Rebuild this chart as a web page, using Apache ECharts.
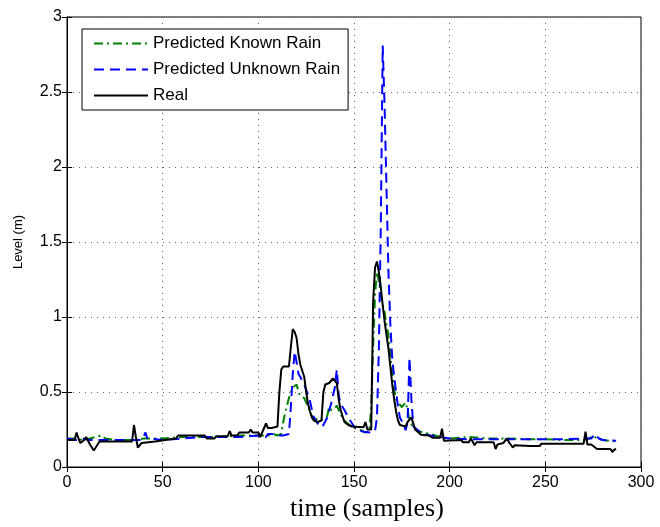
<!DOCTYPE html>
<html lang="en">
<head>
    <meta charset="UTF-8">
    <title>level</title>
    <script src="https://cdn.jsdelivr.net/npm/echarts@6/dist/echarts.min.js"></script>
    <style>
        html, body { margin: 0; padding: 0; background: #fff; }
        #box { width: 660px; height: 527px; }
    </style>
</head>
<body>
    <div id="box"></div>
    <script>
        // sample index / level (m) pairs
        var realX = [0,2,4,5,6,7,9,10,11,12,14,15,16,17,34,35,36,37,39,40,46,47,57,58,72,73,77,78,84,85,86,89,90,95,96,97,100,101,102,104,105,107,108,110,111,112,113,116,117,118,119,120,121,122,123,124,125,126,127,128,129,131,133,134,135,137,139,140,141,142,143,144,145,147,149,150,155,156,157,159,160,161,162,163,164,165,166,167,168,169,170,171,172,173,174,175,177,178,180,181,182,183,185,189,191,195,196,197,198,206,207,210,211,212,213,214,223,224,225,228,229,230,231,232,233,234,242,247,248,270,271,272,274,275,277,284,285,286,287];
        var realY = [0.18,0.18,0.18,0.23,0.19,0.16,0.18,0.2,0.19,0.15,0.11,0.13,0.15,0.17,0.17,0.28,0.2,0.13,0.16,0.17,0.17,0.18,0.19,0.21,0.21,0.19,0.19,0.205,0.205,0.24,0.21,0.21,0.23,0.23,0.25,0.23,0.23,0.2,0.2,0.29,0.26,0.26,0.27,0.27,0.5,0.65,0.67,0.67,0.8,0.92,0.9,0.86,0.75,0.68,0.64,0.6,0.5,0.42,0.37,0.33,0.31,0.3,0.31,0.5,0.55,0.56,0.59,0.59,0.56,0.45,0.38,0.34,0.3,0.28,0.27,0.265,0.265,0.3,0.25,0.25,1.1,1.33,1.37,1.3,1.2,1.08,0.97,0.88,0.79,0.67,0.55,0.45,0.37,0.31,0.28,0.27,0.27,0.3,0.33,0.29,0.25,0.24,0.215,0.21,0.195,0.195,0.255,0.175,0.18,0.18,0.165,0.165,0.19,0.17,0.145,0.165,0.165,0.12,0.15,0.16,0.16,0.19,0.165,0.165,0.13,0.145,0.14,0.14,0.155,0.155,0.235,0.15,0.15,0.14,0.12,0.12,0.1,0.115,0.12];

        var knownX = [0,5,8,12,15,18,20,25,35,40,50,60,70,80,90,100,105,108,110,112,113,114,116,118,120,121,122,124,126,128,130,132,134,136,137,138,140,141,143,145,149,153,156,158,159,160,161,162,163,164,165,166,167,168,169,170,171,172,173,175,177,178,179,181,183,186,190,195,200,210,220,230,240,250,260,270,273,275,277,280,287];
        var knownY = [0.19,0.19,0.18,0.19,0.2,0.21,0.19,0.18,0.18,0.19,0.19,0.2,0.2,0.2,0.21,0.21,0.21,0.22,0.21,0.22,0.3,0.36,0.46,0.53,0.55,0.5,0.47,0.46,0.4,0.34,0.32,0.31,0.32,0.34,0.4,0.38,0.39,0.41,0.35,0.31,0.265,0.25,0.23,0.24,0.4,0.8,1.15,1.3,1.24,1.15,1.08,1.03,0.95,0.88,0.75,0.62,0.52,0.45,0.43,0.4,0.43,0.38,0.31,0.26,0.24,0.23,0.22,0.2,0.19,0.2,0.19,0.19,0.185,0.185,0.18,0.18,0.19,0.21,0.19,0.18,0.17];

        var unknownX = [0,5,8,10,12,20,30,39,40,41,42,50,60,70,80,90,100,104,105,108,110,113,116,117,118,119,120,121,122,123,124,126,127,128,129,131,133,134,136,138,140,141,142,143,145,147,149,151,155,158,161,162,163,164,165,166,167,168,169,170,171,172,173,174,176,177,178,179,180,181,183,186,190,195,200,210,220,230,240,250,260,270,274,276,278,280,287];
        var unknownY = [0.19,0.18,0.19,0.185,0.18,0.18,0.18,0.18,0.2,0.23,0.19,0.18,0.19,0.2,0.2,0.2,0.21,0.2,0.22,0.22,0.21,0.21,0.22,0.4,0.62,0.77,0.7,0.62,0.6,0.57,0.55,0.48,0.44,0.38,0.33,0.29,0.265,0.28,0.33,0.42,0.53,0.65,0.48,0.42,0.38,0.33,0.29,0.25,0.235,0.23,0.24,0.33,0.79,1.6,2.81,2.4,1.85,1.3,0.95,0.72,0.6,0.5,0.4,0.33,0.28,0.245,0.3,0.73,0.45,0.27,0.25,0.22,0.21,0.2,0.19,0.185,0.185,0.185,0.185,0.185,0.185,0.19,0.19,0.22,0.19,0.18,0.175];

        function pairs(xs, ys) {
            return xs.map(function (x, i) { return [x, ys[i]]; });
        }

        var myChart = echarts.init(document.getElementById('box'));
        var tickFont = { color: '#000', fontSize: 16, fontFamily: 'Liberation Sans' };
        var grid = { show: true, lineStyle: { color: '#666', type: [1, 5], width: 1 } };

        var option = {
            backgroundColor: '#fff',
            animation: false,
            grid: { left: 67, right: 19, top: 17, bottom: 57, show: true, borderColor: '#000', borderWidth: 1 },
            legend: {
                orient: 'vertical',
                left: 82,
                top: 29,
                padding: [6, 8, 6, 11],
                itemGap: 9,
                itemWidth: 54,
                itemHeight: 14,
                borderColor: '#000',
                borderWidth: 1,
                backgroundColor: '#fff',
                itemStyle: { opacity: 0 },
                textStyle: { fontSize: 17, fontFamily: 'Liberation Sans', color: '#000' },
                data: ['Predicted Known Rain', 'Predicted Unknown Rain', 'Real']
            },
            xAxis: [
                {
                    type: 'value', min: 0, max: 300, interval: 50,
                    name: 'time (samples)', nameLocation: 'middle', nameGap: 29,
                    nameTextStyle: { fontFamily: 'Liberation Serif', fontSize: 26, color: '#000', padding: [0, 0, 0, 26] },
                    axisLine: { lineStyle: { color: '#000' } },
                    axisTick: { inside: true, length: 5, lineStyle: { color: '#000' } },
                    axisLabel: tickFont,
                    splitLine: grid
                },
                {
                    type: 'value', min: 0, max: 300, interval: 50, position: 'top',
                    axisLine: { lineStyle: { color: '#000' } },
                    axisTick: { inside: true, length: 5, lineStyle: { color: '#000' } },
                    axisLabel: { show: false },
                    splitLine: { show: false }
                }
            ],
            yAxis: [
                {
                    type: 'value', min: 0, max: 3, interval: 0.5,
                    name: 'Level (m)', nameLocation: 'middle', nameGap: 42,
                    nameTextStyle: { fontFamily: 'Liberation Sans', fontSize: 13, color: '#000' },
                    axisLine: { show: true, lineStyle: { color: '#000' } },
                    axisTick: { show: true, inside: true, length: 5, lineStyle: { color: '#000' } },
                    axisLabel: Object.assign({ margin: 5 }, tickFont),
                    splitLine: grid
                },
                {
                    type: 'value', min: 0, max: 3, interval: 0.5, position: 'right',
                    axisLine: { show: true, lineStyle: { color: '#000' } },
                    axisTick: { show: true, inside: true, length: 5, lineStyle: { color: '#000' } },
                    axisLabel: { show: false },
                    splitLine: { show: false }
                }
            ],
            series: [
                {
                    name: 'Predicted Known Rain',
                    type: 'line',
                    symbol: 'none',
                    z: 2,
                    color: '#008000',
                    lineStyle: { color: '#008000', width: 2, type: [9, 4, 2, 4] },
                    data: pairs(knownX, knownY)
                },
                {
                    name: 'Predicted Unknown Rain',
                    type: 'line',
                    symbol: 'none',
                    z: 3,
                    color: '#0000ff',
                    lineStyle: { color: '#0000ff', width: 2, type: [10, 6] },
                    data: pairs(unknownX, unknownY)
                },
                {
                    name: 'Real',
                    type: 'line',
                    symbol: 'none',
                    z: 4,
                    color: '#000',
                    lineStyle: { color: '#000', width: 2 },
                    data: pairs(realX, realY)
                }
            ]
        };

        myChart.setOption(option);
    </script>
</body>
</html>
